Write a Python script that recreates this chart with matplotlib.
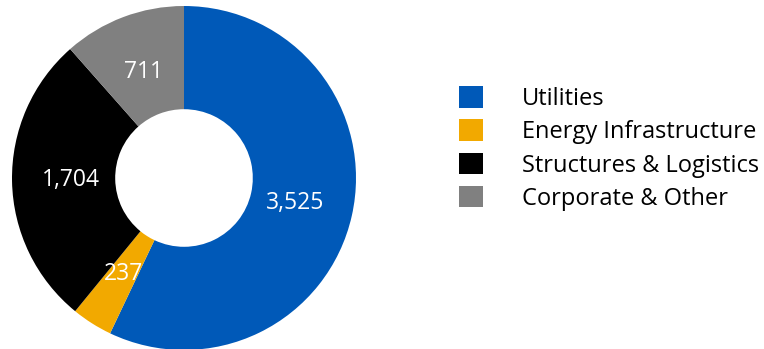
import matplotlib.pyplot as plt

# --- data ---
segments = ["Utilities", "Energy Infrastructure", "Structures & Logistics", "Corporate & Other"]
values = [3525, 237, 1704, 711]
colors = ["#0059B8", "#F2A900", "#000000", "#808080"]

plt.rcParams['font.family'] = ['Open Sans', 'DejaVu Sans']

W, H = 764, 349
fig = plt.figure(figsize=(W / 100, H / 100), dpi=100)
# pie axes placed in pixel terms
ax = fig.add_axes([12 / W, -1 / H, 344 / W, 344 / H])

wedges, texts = ax.pie(
    values, colors=colors, startangle=90, counterclock=False,
    labels=[f"{v:,}" for v in values], labeldistance=0.66,
    wedgeprops=dict(width=0.6, edgecolor='none'),
    textprops=dict(color='white', fontsize=16.5),
)
for t in texts:
    t.set_horizontalalignment('center')
    t.set_verticalalignment('center')
ax.set_xlim(-1, 1)
ax.set_ylim(-1, 1)
ax.set_aspect('equal')

fig.legend(wedges, segments, loc='center left', bbox_to_anchor=(459 / W, 1 - 148.5 / H),
           frameon=False, fontsize=17, handlelength=1.02, handleheight=1.02,
           handletextpad=1.65, labelspacing=0.36, borderpad=0, borderaxespad=0)

fig.savefig("out.png", dpi=100)
